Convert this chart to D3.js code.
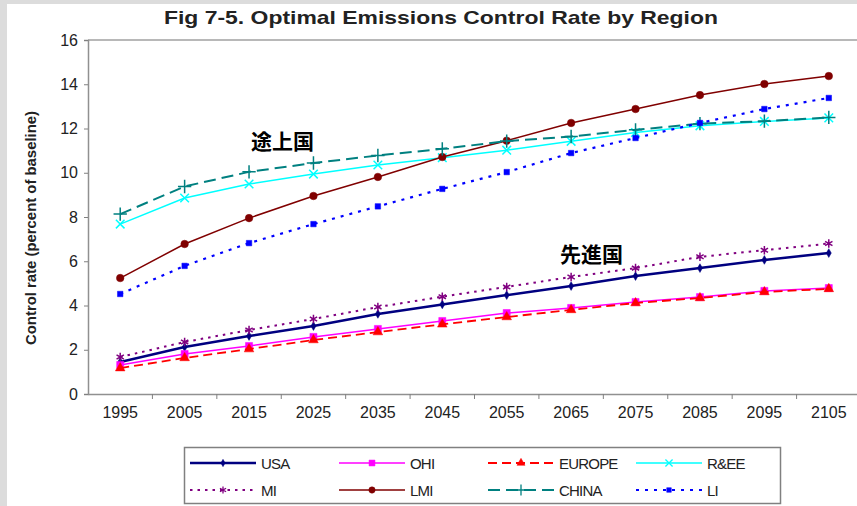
<!DOCTYPE html>
<html>
<head>
<meta charset="utf-8">
<script src="https://cdn.jsdelivr.net/npm/d3@7"></script>
<style>
  body { margin: 0; background: #dcdcdc; }
  svg { display: block; }
  text { font-family: "Liberation Sans", Arial, sans-serif; }
</style>
</head>
<body>
<script>
// years on the category axis
var years = ["1995", "2005", "2015", "2025", "2035", "2045", "2055", "2065", "2075", "2085", "2095", "2105"];
var yTicks = [0, 2, 4, 6, 8, 10, 12, 14, 16];

// control rate by region
var usa    = [1.45, 2.12, 2.62, 3.07, 3.62, 4.05, 4.47, 4.88, 5.33, 5.69, 6.06, 6.37];
var ohi    = [1.31, 1.81, 2.17, 2.58, 2.94, 3.30, 3.66, 3.89, 4.16, 4.38, 4.66, 4.79];
var europe = [1.17, 1.63, 2.03, 2.44, 2.80, 3.15, 3.48, 3.80, 4.11, 4.34, 4.61, 4.75];
var ree    = [7.68, 8.86, 9.49, 9.94, 10.35, 10.68, 11.02, 11.42, 11.82, 12.12, 12.32, 12.48];
var mi     = [1.67, 2.35, 2.89, 3.39, 3.93, 4.40, 4.84, 5.29, 5.69, 6.20, 6.50, 6.80];
var lmi    = [5.24, 6.78, 7.95, 8.95, 9.81, 10.71, 11.45, 12.25, 12.88, 13.51, 14.01, 14.37];
var china  = [8.13, 9.38, 10.04, 10.44, 10.78, 11.08, 11.43, 11.64, 11.94, 12.22, 12.33, 12.50];
var li     = [4.52, 5.79, 6.82, 7.68, 8.48, 9.27, 10.03, 10.89, 11.57, 12.25, 12.88, 13.38];

var series = [
  {name: "USA",    values: usa,    color: "#000080", width: 2.5, dash: null,    symbol: d3.symbolDiamond, size: 22, fill: true},
  {name: "OHI",    values: ohi,    color: "#ff00ff", width: 1.5, dash: null,    symbol: d3.symbolSquare,  size: 50, fill: true},
  {name: "EUROPE", values: europe, color: "#ff0000", width: 1.8, dash: "9,5",   symbol: d3.symbolTriangle, size: 40, fill: true},
  {name: "R&EE",   values: ree,    color: "#00ffff", width: 1.5, dash: null,    symbol: d3.symbolTimes || d3.symbolCross, size: 50, fill: false},
  {name: "MI",     values: mi,     color: "#800080", width: 2,   dash: "2.5,5", symbol: d3.symbolAsterisk || d3.symbolStar, size: 50, fill: false},
  {name: "LMI",    values: lmi,    color: "#800000", width: 1.5, dash: null,    symbol: d3.symbolCircle,  size: 45, fill: true},
  {name: "CHINA",  values: china,  color: "#008080", width: 2,   dash: "12,6",  symbol: d3.symbolPlus || d3.symbolCross, size: 60, fill: false},
  {name: "LI",     values: li,     color: "#0000ff", width: 2.2, dash: "3,6",   symbol: d3.symbolSquare,  size: 30, fill: true}
];

var width = 857, height = 506;

var svg = d3.select("body").append("svg")
  .attr("width", width)
  .attr("height", height);

// white sheet inside the gray frame
svg.append("rect")
  .attr("x", 7).attr("y", 4)
  .attr("width", width - 7).attr("height", height - 4)
  .attr("fill", "#fff");

var x = d3.scaleBand()
  .domain(years)
  .range([88, 861]);

var y = d3.scaleLinear()
  .domain([0, 16])
  .range([394, 40]);

svg.append("text")
  .attr("x", 441).attr("y", 24)
  .attr("text-anchor", "middle")
  .attr("textLength", 554)
  .attr("lengthAdjust", "spacingAndGlyphs")
  .style("font-size", "19px")
  .style("font-weight", "bold")
  .attr("fill", "#222")
  .text("Fig 7-5. Optimal Emissions Control Rate by Region");

// top border of the plot area
svg.append("line")
  .attr("x1", 88).attr("x2", width)
  .attr("y1", y(16)).attr("y2", y(16))
  .attr("stroke", "#a0a0a0").attr("stroke-width", 1.5);

var yAxis = svg.append("g")
  .attr("transform", "translate(88,0)")
  .call(d3.axisLeft(y).tickValues(yTicks).tickSize(4).tickPadding(6));

var xAxis = svg.append("g")
  .attr("transform", "translate(0," + y(0) + ")")
  .call(d3.axisBottom(x).tickSize(0).tickPadding(13));

// category ticks sit between the bands
xAxis.selectAll(".sep")
  .data(years.slice(1))
  .enter().append("line")
  .attr("class", "sep")
  .attr("x1", function(d) { return x(d); })
  .attr("x2", function(d) { return x(d); })
  .attr("y1", 0).attr("y2", 5)
  .attr("stroke", "#808080");

[yAxis, xAxis].forEach(function(g) {
  g.select(".domain").attr("stroke", "#909090").attr("stroke-width", 1.5);
  g.selectAll(".tick line").attr("stroke", "#808080");
  g.selectAll("text").style("font-size", "16px").attr("fill", "#222")
    .style("font-family", "'Liberation Sans', Arial, sans-serif");
});

svg.append("text")
  .attr("transform", "translate(36,228) rotate(-90)")
  .attr("text-anchor", "middle")
  .attr("textLength", 234)
  .attr("lengthAdjust", "spacingAndGlyphs")
  .style("font-size", "15px")
  .style("font-weight", "bold")
  .attr("fill", "#222")
  .text("Control rate (percent of baseline)");

var line = d3.line()
  .x(function(d, i) { return x(years[i]) + x.bandwidth() / 2; })
  .y(function(d) { return y(d); });

series.forEach(function(s) {
  var g = svg.append("g");
  g.append("path")
    .attr("d", line(s.values))
    .attr("fill", "none")
    .attr("stroke", s.color)
    .attr("stroke-width", s.width)
    .attr("stroke-dasharray", s.dash);
  g.selectAll("path.pt")
    .data(s.values)
    .enter().append("path")
    .attr("class", "pt")
    .attr("transform", function(d, i) {
      return "translate(" + (x(years[i]) + x.bandwidth() / 2) + "," + y(d) + ")";
    })
    .attr("d", d3.symbol().type(s.symbol).size(s.size))
    .attr("fill", s.fill ? s.color : "none")
    .attr("stroke", s.color)
    .attr("stroke-width", s.fill ? 0.5 : 1.5);
});

// region labels
svg.append("text")
  .attr("x", 251).attr("y", 149)
  .style("font-family", "'Noto Sans CJK JP', sans-serif")
  .style("font-size", "21px").style("font-weight", "bold")
  .text("途上国");
svg.append("text")
  .attr("x", 560).attr("y", 262)
  .style("font-family", "'Noto Sans CJK JP', sans-serif")
  .style("font-size", "21px").style("font-weight", "bold")
  .text("先進国");

// legend
var legend = svg.append("g");
legend.append("rect")
  .attr("x", 184.5).attr("y", 447.5)
  .attr("width", 596).attr("height", 56)
  .attr("fill", "#fff")
  .attr("stroke", "#808080").attr("stroke-width", 1.5);

var colX = [190, 339, 488, 636];
var rowY = [463, 490];

var item = legend.selectAll("g.item")
  .data(series)
  .enter().append("g")
  .attr("class", "item")
  .attr("transform", function(d, i) {
    return "translate(" + colX[i % 4] + "," + rowY[Math.floor(i / 4)] + ")";
  });

item.append("line")
  .attr("x1", 0).attr("x2", 66)
  .attr("stroke", function(d) { return d.color; })
  .attr("stroke-width", function(d) { return d.width; })
  .attr("stroke-dasharray", function(d) { return d.dash; });

item.append("path")
  .attr("transform", "translate(33,0)")
  .attr("d", function(d) { return d3.symbol().type(d.symbol).size(d.size * 0.7)(); })
  .attr("fill", function(d) { return d.fill ? d.color : "none"; })
  .attr("stroke", function(d) { return d.color; })
  .attr("stroke-width", function(d) { return d.fill ? 0.5 : 1.3; });

item.append("text")
  .attr("x", 71).attr("y", 5.5)
  .style("font-size", "15px")
  .style("letter-spacing", "-0.8px")
  .attr("fill", "#222")
  .text(function(d) { return d.name; });
</script>
</body>
</html>
